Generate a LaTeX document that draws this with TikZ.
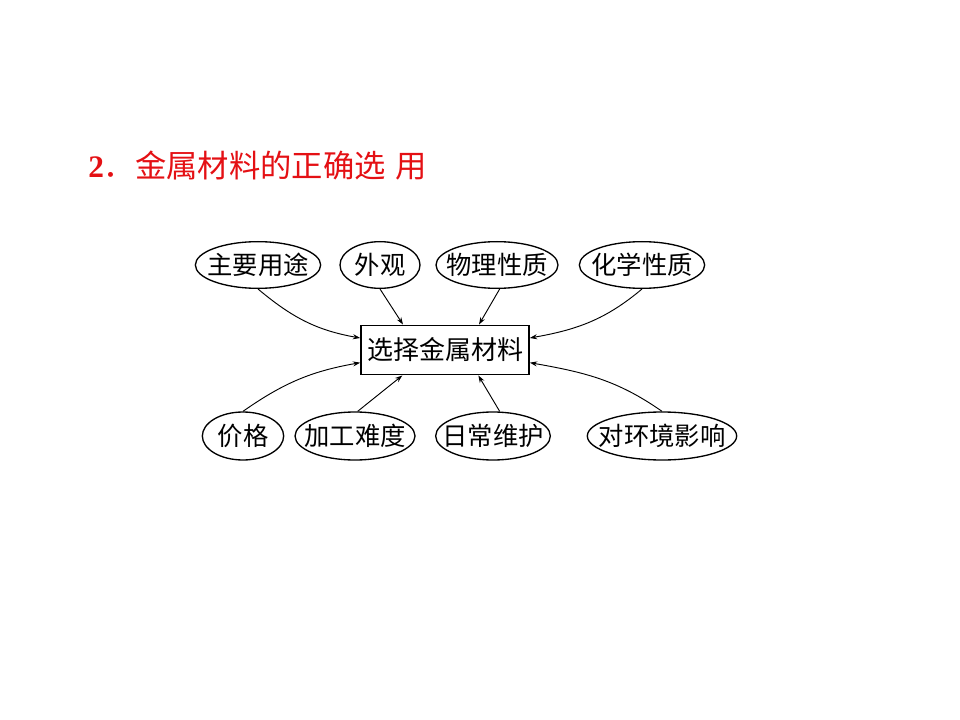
\documentclass[tikz,border=0pt]{standalone}
\usepackage{fontspec}
\setmainfont{Liberation Serif}
\newfontfamily\cjk{Noto Sans CJK SC}
\usetikzlibrary{shapes.geometric,arrows.meta}
\definecolor{titlered}{RGB}{228,16,20}
\begin{document}
\begin{tikzpicture}[x=0.75pt,y=-0.75pt,
  oval/.style={ellipse, draw, line width=1pt, inner sep=0pt, font=\cjk\fontsize{19}{21}\selectfont},
  mainbox/.style={rectangle, draw, line width=1.2pt, inner sep=0pt, minimum width=126pt, minimum height=37pt, font=\cjk\fontsize{19.5}{21}\selectfont},
  link/.style={line width=0.7pt, -{Stealth[length=5.5pt,width=3.8pt]}}]
\useasboundingbox (0,0) rectangle (960,720);
\node[anchor=west, text=titlered, inner sep=0pt] (title) at (88,166)
  {\fontsize{23.5}{25}\selectfont\textbf{2}{\cjk．金属材料的正确选\hspace{0.3em}用}};
\node[mainbox] (box) at (445,350) {\makebox[0pt]{选择金属材料}};
\node[oval, minimum width=94pt, minimum height=35pt] (a) at (258,265) {\makebox[0pt]{主要用途}};
\node[oval, minimum width=60pt, minimum height=35pt] (b) at (380,265) {\makebox[0pt]{外观}};
\node[oval, minimum width=91.5pt, minimum height=35pt] (c) at (497,265) {\makebox[0pt]{物理性质}};
\node[oval, minimum width=94pt, minimum height=35pt] (d) at (642,265) {\makebox[0pt]{化学性质}};
\node[oval, minimum width=61pt, minimum height=36pt] (e) at (243,436) {\makebox[0pt]{价格}};
\node[oval, minimum width=90pt, minimum height=36pt] (f) at (355,436) {\makebox[0pt]{加工难度}};
\node[oval, minimum width=86pt, minimum height=36pt] (g) at (493,436) {\makebox[0pt]{日常维护}};
\node[oval, minimum width=112pt, minimum height=36pt] (h) at (662,436) {\makebox[0pt]{对环境影响}};
\draw[link] (a.south) to[out=-40,in=170] ([yshift=9pt]box.west);
\draw[link] (b.south) -- ([xshift=-31.5pt]box.north);
\draw[link] ([xshift=2pt]c.south) -- ([xshift=25.5pt]box.north);
\draw[link] (d.south) to[out=-140,in=10] ([yshift=9pt]box.east);
\draw[link] (e.north) to[out=35,in=190] ([yshift=-9.5pt]box.west);
\draw[link] ([xshift=2pt]f.north) -- ([xshift=-32pt]box.south);
\draw[link] ([xshift=5pt]g.north) -- ([xshift=25pt]box.south);
\draw[link] (h.north) to[out=145,in=-10] ([yshift=-9.5pt]box.east);
\end{tikzpicture}
\end{document}
